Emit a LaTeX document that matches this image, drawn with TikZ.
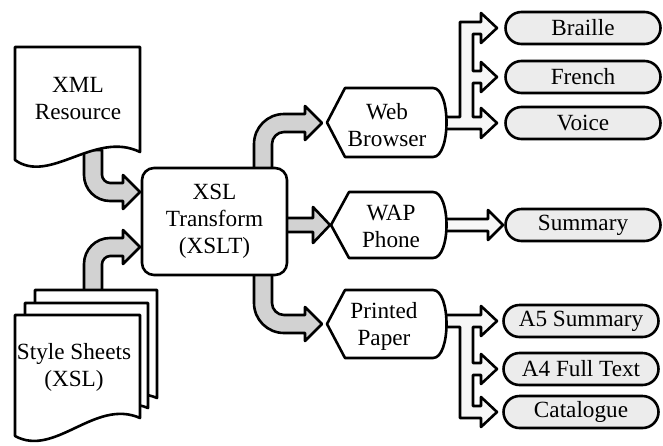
\documentclass[tikz,border=0pt]{standalone}
\usepackage{fontspec}
\setmainfont{Liberation Serif}
\newfontfamily\diagfont{Liberation Serif}
\usetikzlibrary{shapes.misc}
\begin{document}
\begin{tikzpicture}[x=0.5pt,y=-0.5pt,
  line width=1.3pt, line join=round,
  lbl/.style={font=\diagfont\fontsize{11.6}{13.5}\selectfont, align=center, inner sep=0pt},
  docpage/.style={draw, fill=white},
  blockarrow/.style={draw, fill=gray!35},
  outarrow/.style={draw, fill=gray!6},
  dispbox/.style={draw, fill=white},
  procbox/.style={draw, fill=white, rounded corners=6pt, minimum width=72.5pt,
    minimum height=53.5pt, inner sep=0pt, align=center,
    font=\diagfont\fontsize{11.6}{13.5}\selectfont},
  outbox/.style={draw, fill=gray!15, rounded rectangle, minimum width=77.5pt,
    minimum height=16pt, inner sep=0pt, font=\diagfont\fontsize{11.6}{13.5}\selectfont}]
\useasboundingbox (0,0) rectangle (663,445);

% ---- block arrows (under the boxes) ----
% XML -> XSLT
\path[blockarrow] (84,150) -- (84,175) .. controls (84,189.4) and (95.6,201) .. (110,201)
  -- (123,201) -- (123,209) -- (140,192) -- (123,175) -- (123,183) -- (110,183)
  .. controls (105.6,183) and (102,178.6) .. (102,175) -- (102,150) -- cycle;
% Style sheets -> XSLT
\path[blockarrow] (84,300) -- (84,264) .. controls (84,249.6) and (95.6,238) .. (110,238)
  -- (123,238) -- (123,230) -- (140,247) -- (123,264) -- (123,256) -- (110,256)
  .. controls (105.6,256) and (102,260.4) .. (102,264) -- (102,300) -- cycle;
% XSLT -> Web Browser
\path[blockarrow] (254,180) -- (254,144) .. controls (254,127.4) and (267.4,114) .. (284,114)
  -- (305,114) -- (305,106) -- (322,123) -- (305,140) -- (305,132) -- (284,132)
  .. controls (277.4,132) and (272,137.4) .. (272,144) -- (272,180) -- cycle;
% XSLT -> Printed Paper
\path[blockarrow] (254,265) -- (254,303) .. controls (254,319.6) and (267.4,333) .. (284,333)
  -- (305,333) -- (305,341) -- (322,324) -- (305,307) -- (305,315) -- (284,315)
  .. controls (277.4,315) and (272,309.6) .. (272,303) -- (272,265) -- cycle;
% XSLT -> WAP
\path[blockarrow] (280,218) -- (313,218) -- (313,207) -- (330,225) -- (313,243)
  -- (313,232) -- (280,232) -- cycle;

% ---- output branching arrows ----
\path[outarrow] (440,117) -- (460,117) -- (460,22) -- (481,22) -- (481,13) -- (497,28)
  -- (481,43) -- (481,34) -- (473,34) -- (473,71) -- (481,71) -- (481,62) -- (497,77)
  -- (481,92) -- (481,83) -- (473,83) -- (473,117) -- (481,117) -- (481,108) -- (497,123)
  -- (481,138) -- (481,129) -- (440,129) -- cycle;
\path[outarrow] (440,219) -- (488,219) -- (488,210) -- (503,225) -- (488,240)
  -- (488,231) -- (440,231) -- cycle;
\path[outarrow] (440,315) -- (481,315) -- (481,306) -- (497,321) -- (481,336) -- (481,327)
  -- (473,327) -- (473,363) -- (481,363) -- (481,354) -- (497,369) -- (481,384)
  -- (481,375) -- (473,375) -- (473,406) -- (481,406) -- (481,397) -- (497,412)
  -- (481,427) -- (481,418) -- (460,418) -- (460,327) -- (440,327) -- cycle;

% ---- documents ----
\path[docpage] (15,47) -- (140,47) -- (140,152) .. controls (95,130) and (50,185) .. (15,160) -- cycle;
\node[lbl] (xml) at (78,99) {XML\\Resource};

\path[docpage] (35,290) -- (157,290) -- (157,398) .. controls (115,380) and (75,430) .. (35,412) -- cycle;
\path[docpage] (25,303) -- (148,303) -- (148,408) .. controls (105,390) and (65,445) .. (25,424) -- cycle;
\path[docpage] (15,315) -- (140,315) -- (140,418) .. controls (95,398) and (55,458) .. (15,436) -- cycle;
\node[lbl] (ss) at (74,367) {Style Sheets\\(XSL)};

% ---- XSLT ----
\node[procbox] (xslt) at (214.5,221.5) {XSL\\Transform\\(XSLT)};

% ---- display shapes ----
\path[dispbox] (327,122.5) -- (345,88) -- (433,88) .. controls (451,88) and (451,157) .. (433,157) -- (345,157) -- cycle;
\node[lbl] (web) at (387,125) {Web\\Browser};
\path[dispbox] (331,225) -- (349,192) -- (433,192) .. controls (451,192) and (451,258) .. (433,258) -- (349,258) -- cycle;
\node[lbl] (wap) at (391,226) {WAP\\Phone};
\path[dispbox] (327,324) -- (345,290) -- (433,290) .. controls (451,290) and (451,358) .. (433,358) -- (345,358) -- cycle;
\node[lbl] (print) at (384,326) {Printed\\Paper};

% ---- outputs ----
\node[outbox] (braille) at (583,28) {Braille};
\node[outbox] (french) at (583,77) {French};
\node[outbox] (voice) at (583,123) {Voice};
\node[outbox] (summary) at (583,225) {Summary};
\node[outbox] (a5) at (581,321) {A5 Summary};
\node[outbox] (a4) at (581,369) {A4 Full Text};
\node[outbox] (cat) at (581,412) {Catalogue};
\end{tikzpicture}
\end{document}
